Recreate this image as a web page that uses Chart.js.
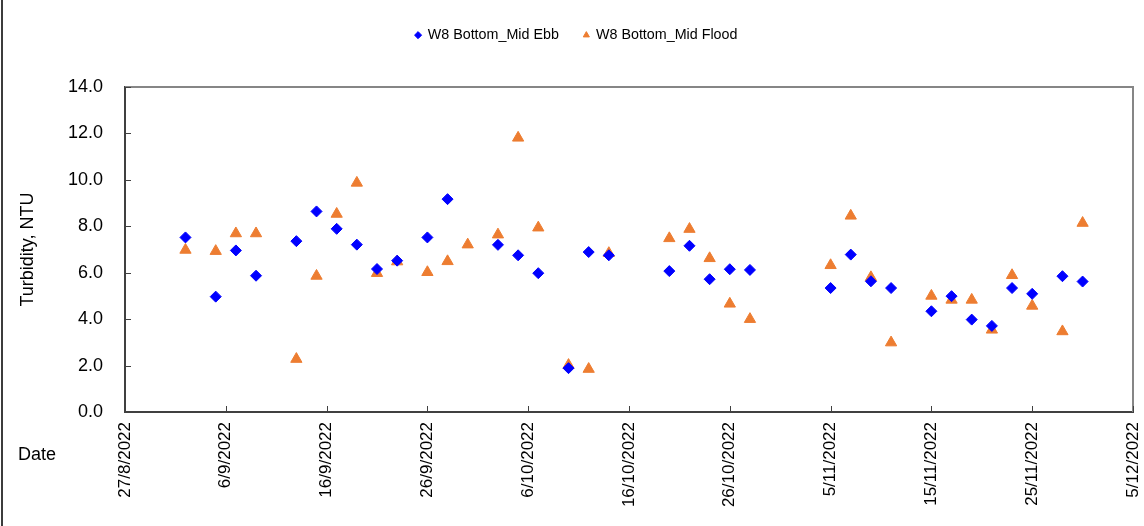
<!DOCTYPE html>
<html>
<head>
<meta charset="utf-8">
<script src="https://cdn.jsdelivr.net/npm/chart.js@4.4.0/dist/chart.umd.min.js"></script>
<style>
  html, body { margin: 0; padding: 0; background: #fff; }
  #wrap { position: relative; width: 1144px; height: 526px; }
  #frame { position: absolute; left: 1px; top: 0; height: 526px; border-left: 2px solid #3c3c3c; }
</style>
</head>
<body>
<div id="wrap">
  <canvas id="turbChart" width="1144" height="526"></canvas>
  <div id="frame"></div>
</div>
<script>
// series names + axis text
var ebbLabel = 'W8 Bottom_Mid Ebb';
var floodLabel = 'W8 Bottom_Mid Flood';
var yTitle = 'Turbidity, NTU';
var xTitle = 'Date';

// axis range (x ticks every 10 days)
var xStart = '2022-08-27';
var xEnd = '2022-12-05';
var xStepDays = 10;
var yMin = 0, yMax = 14, yStep = 2;

// Ebb samples
var ebbDates = ['2022-09-02','2022-09-05','2022-09-07','2022-09-09','2022-09-13','2022-09-15','2022-09-17',
  '2022-09-19','2022-09-21','2022-09-23','2022-09-26','2022-09-28','2022-10-03','2022-10-05','2022-10-07',
  '2022-10-10','2022-10-12','2022-10-14','2022-10-20','2022-10-22','2022-10-24','2022-10-26','2022-10-28',
  '2022-11-05','2022-11-07','2022-11-09','2022-11-11','2022-11-15','2022-11-17','2022-11-19','2022-11-21',
  '2022-11-23','2022-11-25','2022-11-28','2022-11-30'];
var ebbValues = [7.52, 4.97, 6.96, 5.87, 7.36, 8.64, 7.89,
  7.21, 6.16, 6.52, 7.52, 9.17, 7.20, 6.75, 5.98,
  1.89, 6.89, 6.75, 6.07, 7.16, 5.72, 6.15, 6.12,
  5.34, 6.78, 5.63, 5.34, 4.34, 4.99, 3.98, 3.71,
  5.34, 5.09, 5.85, 5.62];

// Flood samples
var floodDates = ['2022-09-02','2022-09-05','2022-09-07','2022-09-09','2022-09-13','2022-09-15','2022-09-17',
  '2022-09-19','2022-09-21','2022-09-23','2022-09-26','2022-09-28','2022-09-30','2022-10-03','2022-10-05',
  '2022-10-07','2022-10-10','2022-10-12','2022-10-14','2022-10-20','2022-10-22','2022-10-24','2022-10-26',
  '2022-10-28','2022-11-05','2022-11-07','2022-11-09','2022-11-11','2022-11-15','2022-11-17','2022-11-19',
  '2022-11-21','2022-11-23','2022-11-25','2022-11-28','2022-11-30'];
var floodValues = [6.98, 6.93, 7.69, 7.69, 2.28, 5.86, 8.53,
  9.87, 5.98, 6.48, 6.02, 6.49, 7.21, 7.64, 11.81,
  7.94, 2.02, 1.85, 6.84, 7.48, 7.88, 6.62, 4.66,
  4.00, 6.32, 8.45, 5.80, 2.99, 5.00, 4.83, 4.83,
  3.54, 5.89, 4.57, 3.47, 8.14];

var DAY = 86400000;
var fontFamily = '"Liberation Sans", Arial, sans-serif';

function toMs(s) {
  var p = s.split('-');
  return Date.UTC(+p[0], +p[1] - 1, +p[2]);
}
function fmtDate(ms) {
  var d = new Date(ms);
  return d.getUTCDate() + '/' + (d.getUTCMonth() + 1) + '/' + d.getUTCFullYear();
}
function toPoints(dates, vals) {
  return dates.map(function(d, i) { return { x: toMs(d), y: vals[i] }; });
}

// keep the legend band a fixed height so the plot starts where it should,
// and nudge it a little right like the original
var legendBand = {
  id: 'legendBand',
  beforeLayout: function(chart) {
    var lg = chart.legend;
    if (lg && !lg._bandPatched) {
      var fit = lg.fit;
      lg.fit = function() {
        fit.call(this);
        this.height = 84;
      };
      lg._bandPatched = true;
    }
  },
  afterLayout: function(chart) {
    if (chart.legend) {
      chart.legend.left += 20;
    }
  }
};

// plot frame (grey top/right), inward tick marks and the "Date" caption
var extras = {
  id: 'extras',
  afterDraw: function(chart) {
    var ctx = chart.ctx, a = chart.chartArea;
    var xs = chart.scales.x, ys = chart.scales.y;
    ctx.save();
    ctx.strokeStyle = '#868686';
    ctx.lineWidth = 2;
    ctx.beginPath();
    ctx.moveTo(a.left, a.top);
    ctx.lineTo(a.right, a.top);
    ctx.lineTo(a.right, a.bottom);
    ctx.stroke();

    ctx.strokeStyle = '#404040';
    ctx.lineWidth = 1;
    ctx.beginPath();
    ys.ticks.forEach(function(t) {
      var y = Math.round(ys.getPixelForValue(t.value)) + 0.5;
      ctx.moveTo(a.left, y);
      ctx.lineTo(a.left + 6, y);
    });
    xs.ticks.forEach(function(t) {
      var x = Math.round(xs.getPixelForValue(t.value)) + 0.5;
      ctx.moveTo(x, a.bottom);
      ctx.lineTo(x, a.bottom - 6);
    });
    ctx.stroke();

    ctx.fillStyle = '#000';
    ctx.font = '18px ' + fontFamily;
    ctx.textAlign = 'left';
    ctx.textBaseline = 'middle';
    ctx.fillText(xTitle, 18, a.bottom + 43);
    ctx.restore();
  }
};

var ctx = document.getElementById('turbChart').getContext('2d');
var turbChart = new Chart(ctx, {
  type: 'scatter',
  data: {
    datasets: [{
      label: ebbLabel,
      data: toPoints(ebbDates, ebbValues),
      pointStyle: 'rectRot',
      pointRadius: 5.5,
      pointHoverRadius: 5.5,
      backgroundColor: '#0000ff',
      borderColor: '#0000ff',
      borderWidth: 1
    }, {
      label: floodLabel,
      data: toPoints(floodDates, floodValues),
      pointStyle: 'triangle',
      pointRadius: 6.5,
      pointHoverRadius: 6.5,
      backgroundColor: '#ed7d31',
      borderColor: '#ed7d31',
      borderWidth: 1
    }]
  },
  options: {
    responsive: false,
    animation: false,
    layout: { padding: { top: 3, right: 11, bottom: 0, left: 0 } },
    plugins: {
      tooltip: { enabled: false },
      legend: {
        position: 'top',
        labels: {
          usePointStyle: true,
          boxWidth: 5,
          boxHeight: 5,
          padding: 25,
          color: '#000',
          font: { family: fontFamily, size: 14.3 }
        }
      }
    },
    scales: {
      x: {
        type: 'linear',
        min: toMs(xStart),
        max: toMs(xEnd),
        afterFit: function(s) {
          s.height = 114;
          s.paddingLeft = 0;
          s.paddingRight = 0;
        },
        grid: { display: false, drawTicks: false },
        border: { display: true, color: '#404040', width: 2 },
        ticks: {
          stepSize: xStepDays * DAY,
          autoSkip: false,
          maxRotation: 90,
          minRotation: 90,
          padding: 10,
          color: '#000',
          font: { family: fontFamily, size: 17 },
          callback: function(v) { return fmtDate(v); }
        }
      },
      y: {
        min: yMin,
        max: yMax,
        afterFit: function(s) {
          s.width = 125;
          s.paddingTop = 0;
          s.paddingBottom = 0;
        },
        grid: { display: false, drawTicks: false },
        border: { display: true, color: '#404040', width: 2 },
        title: {
          display: true,
          text: yTitle,
          color: '#000',
          font: { family: fontFamily, size: 18 },
          padding: { top: 17, bottom: 0 }
        },
        ticks: {
          stepSize: yStep,
          padding: 22,
          color: '#000',
          font: { family: fontFamily, size: 18 },
          callback: function(v) { return v.toFixed(1); }
        }
      }
    }
  },
  plugins: [legendBand, extras]
});
</script>
</body>
</html>
